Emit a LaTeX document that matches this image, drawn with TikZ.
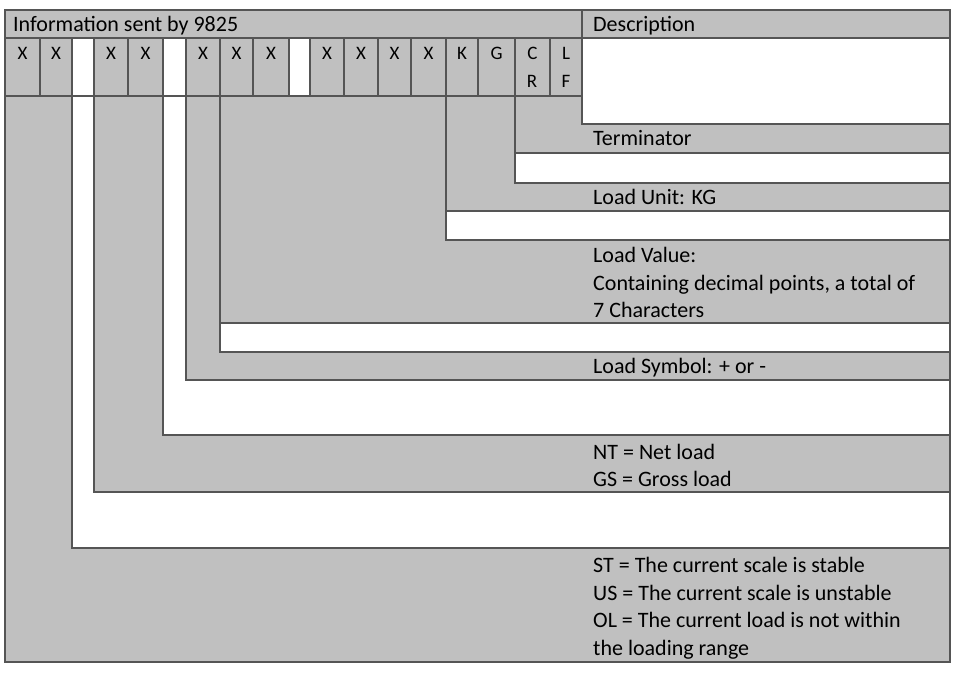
\documentclass[tikz,border=0pt]{standalone}
\usepackage{fontspec}
\setmainfont{Carlito}
\begin{document}
\begin{tikzpicture}[x=1pt,y=-1pt,
  g/.style={fill=cellgray,draw=linegray,line width=1.2pt},
  w/.style={fill=white,draw=linegray,line width=1.2pt},
  txt/.style={anchor=base west,inner sep=0pt,font=\fontsize{22}{28}\selectfont},
  ctxt/.style={anchor=base,inner sep=0pt,font=\fontsize{19}{20}\selectfont}]
\definecolor{cellgray}{HTML}{C0C0C0}
\definecolor{linegray}{HTML}{555555}
\useasboundingbox (0,0) rectangle (963,675);
% header
\draw[g] (5,10) rectangle (582,38);
\draw[g] (582,10) rectangle (950,38);
\node[txt] (h1) at (13,31) {Information sent by 9825};
\node[txt] (h2) at (593,31) {Description};
\draw[w] (582,38) rectangle (950,124);
% L shapes (bottom to top)
\draw[g] (5,96) -- (72,96) -- (72,548) -- (950,548) -- (950,662) -- (5,662) -- cycle;
\draw[w] (72,96) -- (94,96) -- (94,492) -- (950,492) -- (950,548) -- (72,548) -- cycle;
\draw[g] (94,96) -- (163,96) -- (163,435) -- (950,435) -- (950,492) -- (94,492) -- cycle;
\draw[w] (163,96) -- (186,96) -- (186,380) -- (950,380) -- (950,435) -- (163,435) -- cycle;
\draw[g] (186,96) -- (220,96) -- (220,352) -- (950,352) -- (950,380) -- (186,380) -- cycle;
\draw[w] (220,323) rectangle (950,352);
\draw[g] (220,96) -- (446,96) -- (446,240) -- (950,240) -- (950,323) -- (220,323) -- cycle;
\draw[w] (446,211) rectangle (950,240);
\draw[g] (446,96) -- (515,96) -- (515,183) -- (950,183) -- (950,211) -- (446,211) -- cycle;
\draw[w] (515,153) rectangle (950,183);
\draw[g] (515,96) -- (582,96) -- (582,124) -- (950,124) -- (950,153) -- (515,153) -- cycle;
% cell row
\foreach \a/\b/\t [count=\i] in {5/40/X,40/72/X,94/128/X,128/163/X,186/220/X,220/253/X,253/289/X,310/344/X,344/378/X,378/411/X,411/446/X,446/478/K,478/515/G,515/550/C,550/582/L}{
  \draw[g] (\a,38) rectangle (\b,96);
  \node[ctxt] (c\i) at ({(\a+\b)/2},59) {\t};
}
\draw[w] (72,38) rectangle (94,96);
\draw[w] (163,38) rectangle (186,96);
\draw[w] (289,38) rectangle (310,96);
\node[ctxt] (r1) at (532,87) {R};
\node[ctxt] (r2) at (566,87) {F};
% descriptions
\node[txt] (d1) at (593,145) {Terminator};
\node[txt] (d2) at (593,204) {Load Unit: KG};
\node[txt] (d3) at (593,262) {Load Value:};
\node[txt] (d3b) at (593,290) {Containing decimal points, a total of};
\node[txt] (d3c) at (593,317) {7 Characters};
\node[txt] (d4) at (593,373) {Load Symbol: + or -};
\node[txt] (d5) at (593,459) {NT = Net load};
\node[txt] (d5b) at (593,486) {GS = Gross load};
\node[txt] (d6) at (593,572) {ST = The current scale is stable};
\node[txt] (d6b) at (593,600) {US = The current scale is unstable};
\node[txt] (d6c) at (593,627) {OL = The current load is not within};
\node[txt] (d6d) at (593,655) {the loading range};
\end{tikzpicture}
\end{document}
